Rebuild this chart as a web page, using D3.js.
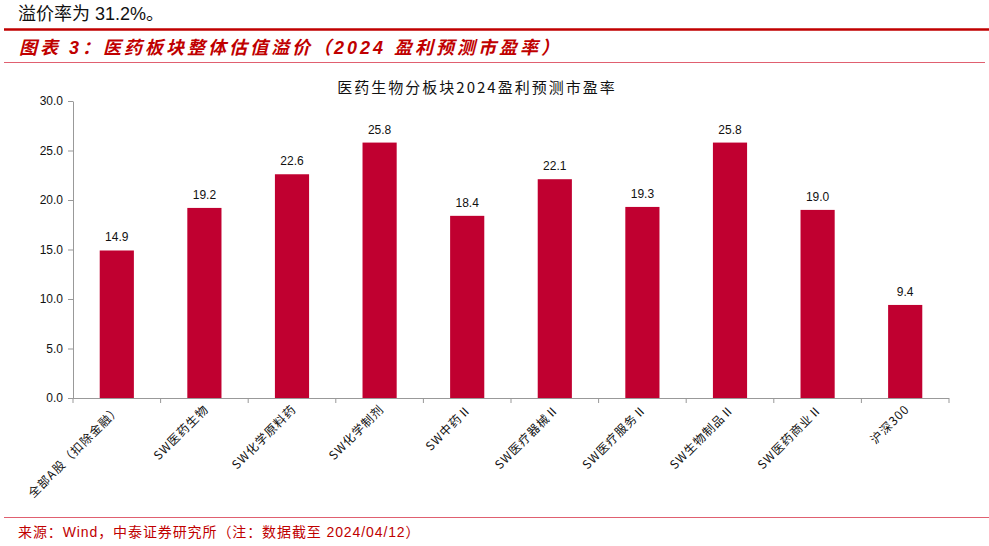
<!DOCTYPE html>
<html><head><meta charset="utf-8">
<script src="https://cdn.jsdelivr.net/npm/d3@7"></script>
<style>body{margin:0;background:#fff;}svg{display:block;}</style>
</head><body>
<svg id="c" width="989" height="546"></svg>
<script>
const categories = ["全部A股（扣除金融）","SW医药生物","SW化学原料药","SW化学制剂","SW中药Ⅱ","SW医疗器械Ⅱ","SW医疗服务Ⅱ","SW生物制品Ⅱ","SW医药商业Ⅱ","沪深300"];
const values = [14.9,19.2,22.6,25.8,18.4,22.1,19.3,25.8,19.0,9.4];
const yTicks = [0,5,10,15,20,25,30];

const svg = d3.select("#c");
const red = "#C00030";
const cjk = "'Noto Sans CJK SC','Noto Sans',sans-serif";

svg.append("text").attr("x",18).attr("y",20).attr("font-size",18).attr("font-family","'Liberation Sans',"+cjk).attr("fill","#111").text("溢价率为 31.2%。");
svg.append("line").attr("x1",4).attr("x2",989).attr("y1",29.5).attr("y2",29.5).attr("stroke","#C00000").attr("stroke-width",2.5);
svg.append("text").attr("x",19).attr("y",54).attr("font-size",18).attr("letter-spacing",3).attr("font-weight","bold").attr("font-style","italic")
  .attr("font-family","'Liberation Sans',"+cjk).attr("fill","#C00000").text("图表 3：医药板块整体估值溢价（2024 盈利预测市盈率）");
svg.append("line").attr("x1",4).attr("x2",985).attr("y1",62.5).attr("y2",62.5).attr("stroke","#E06070").attr("stroke-width",1);

svg.append("text").attr("x",477).attr("y",93).attr("text-anchor","middle").attr("font-size",15).attr("letter-spacing",2)
  .attr("font-family","'Noto Sans CJK SC',serif").attr("fill","#111").text("医药生物分板块2024盈利预测市盈率");

const x = d3.scaleBand().domain(categories).range([73,949]).paddingInner(0.61).paddingOuter(0.305);
const y = d3.scaleLinear().domain([0,30]).range([398,101]);

const gy = svg.append("g").attr("transform","translate(73,0)")
  .call(d3.axisLeft(y).tickValues(yTicks).tickFormat(d3.format(".1f")).tickSize(5).tickSizeOuter(0));
gy.select(".domain").attr("stroke","#999");
gy.selectAll(".tick line").attr("stroke","#999");
gy.selectAll("text").attr("font-size",12).attr("font-family","'Liberation Sans',Arial,sans-serif").attr("fill","#111").attr("dx",-2);

const xb = d3.scaleBand().domain(categories).range([73,949]);
const gx = svg.append("g").attr("transform","translate(0,398)");
gx.append("line").attr("x1",73).attr("x2",949).attr("y1",0.5).attr("y2",0.5).attr("stroke","#999");
gx.selectAll("line.t").data(categories.concat(["_end"])).enter().append("line")
  .attr("x1",(d,i)=>73+i*xb.bandwidth()).attr("x2",(d,i)=>73+i*xb.bandwidth()).attr("y1",0).attr("y2",5).attr("stroke","#999");

svg.selectAll("rect.bar").data(values).enter().append("rect")
  .attr("x",(d,i)=>x(categories[i])).attr("width",x.bandwidth())
  .attr("y",d=>y(d)).attr("height",d=>y(0)-y(d)).attr("fill",red);

svg.selectAll("text.v").data(values).enter().append("text")
  .attr("x",(d,i)=>x(categories[i])+x.bandwidth()/2).attr("y",d=>y(d)-9)
  .attr("text-anchor","middle").attr("font-size",12).attr("font-family","'Liberation Sans',Arial,sans-serif").attr("fill","#111")
  .text(d=>d.toFixed(1));

svg.selectAll("text.xl").data(categories).enter().append("text")
  .attr("transform",d=>`translate(${x(d)+x.bandwidth()/2+5},${410}) rotate(-45)`)
  .attr("text-anchor","end").attr("font-size",12).attr("letter-spacing",1).attr("font-family",cjk).attr("fill","#111")
  .text(d=>d);

svg.append("line").attr("x1",4).attr("x2",989).attr("y1",517.5).attr("y2",517.5).attr("stroke","#E06070").attr("stroke-width",1);
svg.append("text").attr("x",18).attr("y",537).attr("font-size",14).attr("letter-spacing",0.9).attr("font-family","'Liberation Sans',"+cjk).attr("fill","#C00000")
  .text("来源：Wind，中泰证券研究所（注：数据截至 2024/04/12）");
</script>
</body></html>
